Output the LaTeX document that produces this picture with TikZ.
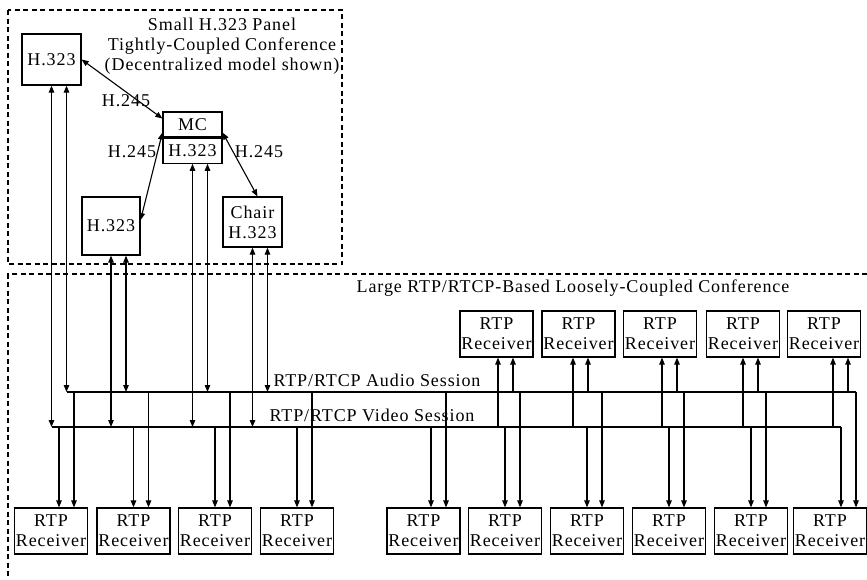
\documentclass[tikz,border=0pt]{standalone}
\usepackage{fontspec}
\setmainfont{Liberation Serif}[LetterSpace=5]
\usetikzlibrary{arrows.meta,positioning}

\begin{document}
\begin{tikzpicture}[x=1pt,y=-1pt,line width=1.1pt,
    font=\fontsize{18}{20}\selectfont,
    unit/.style={draw,line width=1.2pt,inner sep=0pt,align=center},
    rcv/.style={unit,minimum width=73pt,minimum height=46pt},
    link/.style={{Triangle[length=7pt,width=5.5pt]}-{Triangle[length=7pt,width=5.5pt]}},
    feed/.style={-{Triangle[length=7pt,width=5.5pt]}},
    frame/.style={line width=1.5pt,dash pattern=on 5pt off 3.5pt}]
        \useasboundingbox (0,0) rectangle (867,579);
        \draw[frame] (8,10) rectangle (342,264);
        \draw[frame] (867,274) -- (8,274) -- (8,579);

        \node[align=center] (panel) at (222,46)
          {Small H.323 Panel\\Tightly-Coupled Conference\\(Decentralized model shown)};
        \node (large) at (573,288) {Large RTP/RTCP-Based Loosely-Coupled Conference};

        \node[unit,minimum width=59pt,minimum height=51pt] (hA) at (51.5,59.5) {H.323};
        \node[unit,minimum width=58pt,minimum height=58pt] (hB) at (111,226) {H.323};
        \node[unit,minimum width=59pt,minimum height=25pt] (mc) at (192.5,124.5) {MC};
        \node[unit,minimum width=59pt,minimum height=25pt,below=0pt of mc] (mcH) {H.323};
        \node[unit,minimum width=59pt,minimum height=50pt] (chair) at (252.5,222)
          {Chair\\H.323};

        \draw[link] (hA.east) -- ([yshift=6]mc.west);
        \draw[link] ([yshift=5]mc.south west) -- ([yshift=6]hB.east);
        \draw[link] ([yshift=5]mc.south east) -- ([xshift=5]chair.north);
        \node (h1) at (126,101) {H.245};
        \node (h2) at (132,152) {H.245};
        \node (h3) at (259,152) {H.245};

        \coordinate (abus) at (67,392);
        \coordinate (vbus) at (52,427);
        \node (audio) at (377,380) {RTP/RTCP Audio Session};
        \node (video) at (372,415) {RTP/RTCP Video Session};

        \foreach \u in {hA,hB,mcH,chair}{
          \draw[link] (\u.south) -- (\u.south |- vbus);
          \draw[link] ([xshift=15]\u.south) -- ([xshift=15]\u.south |- abus);
        }

        \foreach \n/\x/\o in {1/51/8,2/133.5/0,3/215/0,4/297/0,5/423.5/7.5,
          6/505/0,7/587/0,8/669/0,9/751/0,10/830/11}{
          \node[rcv] (r\n) at (\x,531) {RTP\\Receiver};
          \draw[feed] ([xshift=\o]r\n.north |- vbus) -- ([xshift=\o]r\n.north);
          \draw[feed] ([xshift=\o+15]r\n.north |- abus) -- ([xshift=\o+15]r\n.north);
        }
        \foreach \n/\x/\o in {1/496.5/1.5,2/578.5/-5.5,3/660/2,4/743/0,5/824/9}{
          \node[rcv] (t\n) at (\x,334) {RTP\\Receiver};
          \draw[feed] ([xshift=\o]t\n.south |- vbus) -- ([xshift=\o]t\n.south);
          \draw[feed] ([xshift=\o+15]t\n.south |- abus) -- ([xshift=\o+15]t\n.south);
        }

        \draw (abus) -- ([xshift=26]r10.north |- abus);
        \draw (vbus) -- ([xshift=11]r10.north |- vbus);
      \end{tikzpicture}
\end{document}
